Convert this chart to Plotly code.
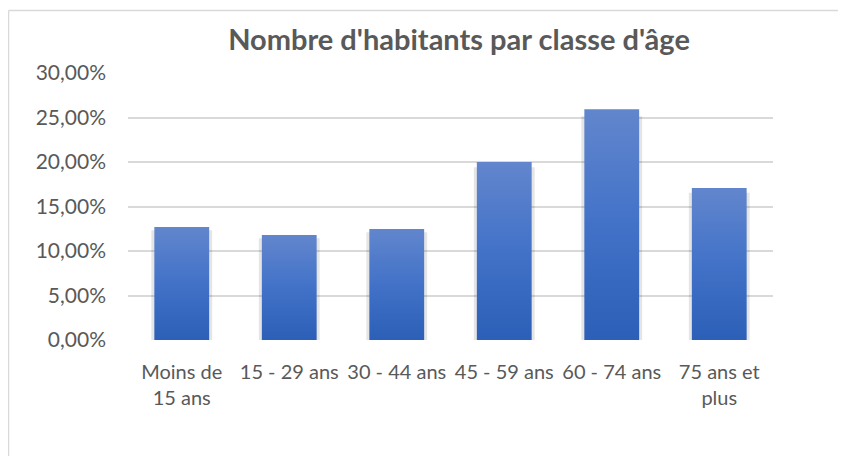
import plotly.graph_objects as go

categories = ["Moins de<br>15 ans", "15 - 29 ans", "30 - 44 ans", "45 - 59 ans", "60 - 74 ans", "75 ans et<br>plus"]
values = [0.127, 0.118, 0.1248, 0.200, 0.2593, 0.1707]
y_ticks = [0, 0.05, 0.10, 0.15, 0.20, 0.25, 0.30]
title_text = "Nombre d'habitants par classe d'âge"

BAR_HALF = 0.255
FONT = "Lato"
GREY_TXT = "#595959"
GRID = "#d9d9d9"
OFF = 8  # page body margin

L, T, PW, PH = 128 - OFF, 73 - OFF, 645, 267.3

fig = go.Figure()

for i, v in enumerate(values):
    # soft shadow (sides and bottom)
    fig.add_trace(go.Scatter(
        x=[i - BAR_HALF, i - BAR_HALF, i + BAR_HALF, i + BAR_HALF],
        y=[v * 0.97, 0, 0, v * 0.97], mode="lines",
        line=dict(width=6, color="rgba(0,0,0,0.10)"),
        hoverinfo="skip", showlegend=False,
    ))
    xs = [i - BAR_HALF, i + BAR_HALF, i + BAR_HALF, i - BAR_HALF, i - BAR_HALF]
    ys = [0, 0, v, v, 0]
    fig.add_trace(go.Scatter(
        x=xs, y=ys, mode="lines", fill="toself",
        line=dict(width=0, color="rgba(0,0,0,0)"),
        fillgradient=dict(type="vertical",
                          colorscale=[[0, "#2c5fb7"], [0.5, "#4272c8"], [1, "#6286cd"]]),
        hoverinfo="skip", showlegend=False,
    ))

fig.update_layout(
    width=846, height=456,
    margin=dict(l=L, r=846 - L - PW, t=T, b=456 - T - PH),
    paper_bgcolor="white", plot_bgcolor="white",
    separators=", ",
    font=dict(family=FONT, color=GREY_TXT, size=20),
    title=dict(text="<b>" + title_text + "</b>", x=(459 - OFF) / 846, xanchor="center",
               xref="container", y=1 - (40 - OFF) / 456, yanchor="middle", yref="container",
               font=dict(family=FONT, size=29, color=GREY_TXT)),
    showlegend=False,
)

fig.update_xaxes(
    range=[-0.5, len(categories) - 0.5],
    tickmode="array", tickvals=list(range(len(categories))), ticktext=categories,
    tickangle=0, showgrid=False, zeroline=False, showline=False,
    ticks="", ticklabelstandoff=18,
    tickfont=dict(family=FONT, size=20, color=GREY_TXT),
)
fig.update_yaxes(
    range=[0, 0.30], tickmode="array", tickvals=y_ticks, tickformat=".2%",
    showgrid=True, gridcolor=GRID, gridwidth=1.5, zeroline=False, showline=False,
    ticks="", ticklabelstandoff=21,
    tickfont=dict(family=FONT, size=21, color=GREY_TXT),
)

# chart outer border (left and top visible)
bx = (0.5 - L) / PW
by = 1 + (T - 2.5) / PH
fig.add_shape(type="line", xref="paper", yref="paper",
              x0=bx, x1=bx, y0=by, y1=-(456 - T - PH + 20) / PH,
              line=dict(color="#d9d9d9", width=1.5))
fig.add_shape(type="line", xref="paper", yref="paper",
              x0=bx, x1=(860 - L) / PW, y0=by, y1=by,
              line=dict(color="#d9d9d9", width=1.5))

fig.write_html("out.html")
